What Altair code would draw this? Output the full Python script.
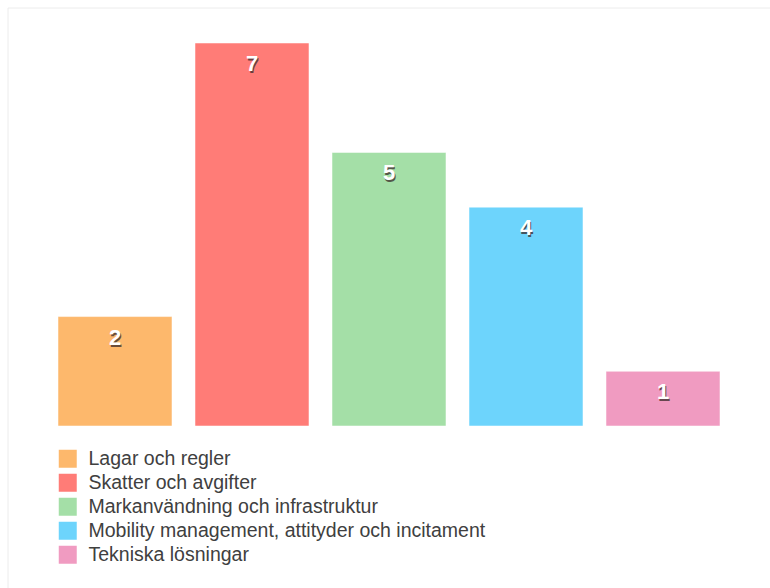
import altair as alt
import pandas as pd

# Number of measures per category
categories = [
    "Lagar och regler",
    "Skatter och avgifter",
    "Markanvändning och infrastruktur",
    "Mobility management, attityder och incitament",
    "Tekniska lösningar",
]
counts = [2, 7, 5, 4, 1]
palette = ["#FDB86C", "#FF7C77", "#A4DFA7", "#6DD4FC", "#F09BC1"]

df = pd.DataFrame({"kategori": categories, "antal": counts})

FONT = "Liberation Sans"

x_enc = alt.X(
    "kategori:N",
    sort=categories,
    axis=None,
    scale=alt.Scale(paddingInner=0.168, paddingOuter=0.084),
)
y_enc = alt.Y("antal:Q", axis=None, scale=alt.Scale(domain=[0, 7], nice=False, zero=True))

bars = alt.Chart(df).mark_bar(stroke="white", strokeWidth=1, strokeOpacity=0.5).encode(
    x=x_enc,
    y=y_enc,
    color=alt.Color(
        "kategori:N",
        sort=categories,
        scale=alt.Scale(domain=categories, range=palette),
        legend=alt.Legend(
            title=None,
            orient="none",
            legendX=11.5,
            legendY=406,
            symbolType="square",
            symbolSize=324,
            symbolStrokeWidth=0,
            symbolOpacity=1,
            labelFont=FONT,
            labelFontSize=19.5,
            labelColor="#404040",
            labelOffset=11,
            labelLimit=700,
            rowPadding=3,
            direction="vertical",
        ),
    ),
)

shadow = alt.Chart(df).mark_text(
    font=FONT, fontSize=22, fontWeight="bold", color="#3a2a2a", opacity=0.75,
    baseline="middle", dx=1, dy=23,
).encode(x=x_enc, y=y_enc, text="antal:Q")

labels = alt.Chart(df).mark_text(
    font=FONT, fontSize=22, fontWeight="bold", color="white",
    baseline="middle", dy=21,
).encode(x=x_enc, y=y_enc, text="antal:Q")

# thin light frame along the top and left edges
frame_top = alt.Chart(df.head(1)).mark_rule(color="#ececec", strokeWidth=1).encode(
    x=alt.value(-38.5), x2=alt.value(724), y=alt.value(-35)
)
frame_left = alt.Chart(df.head(1)).mark_rule(color="#ececec", strokeWidth=1).encode(
    x=alt.value(-38.5), y=alt.value(-35), y2=alt.value(546)
)

chart = (
    alt.layer(frame_top, frame_left, bars, shadow, labels)
    .properties(
        width=685,
        height=383,
        background="white",
        autosize=alt.AutoSizeParams(type="none"),
        padding={"left": 46.5, "top": 43, "right": 38.5, "bottom": 162},
    )
    .configure_view(strokeWidth=0, stroke=None)
)

chart.save("out.html", embed_options={"renderer": "svg", "actions": False})
